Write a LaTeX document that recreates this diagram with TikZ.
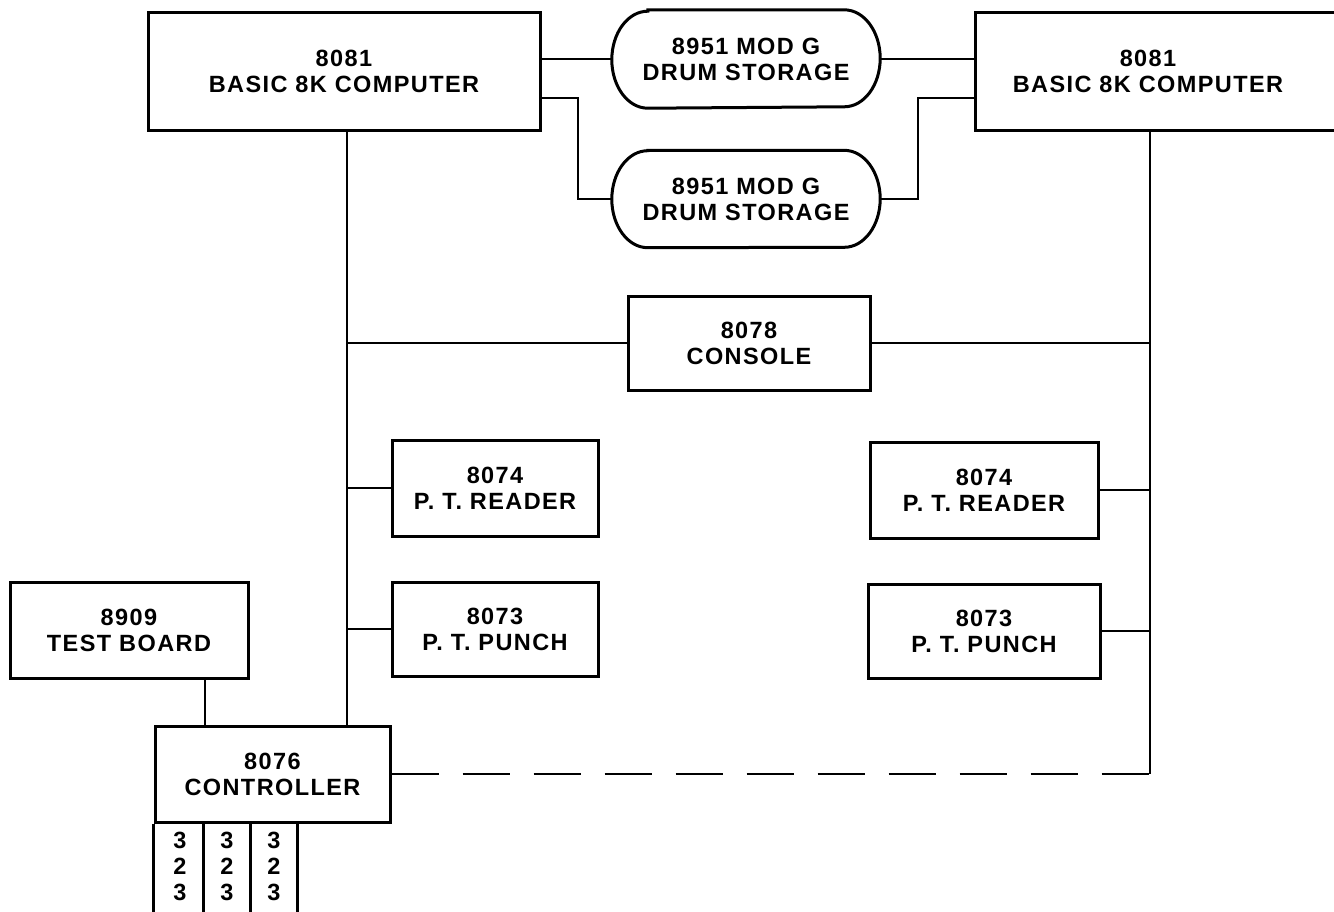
\documentclass[tikz,border=0pt]{standalone}
\usepackage{fontspec}
\setmainfont{Liberation Sans}
\usetikzlibrary{calc}
\newcommand\dglbl{\fontsize{23.5}{26}\selectfont\bfseries\addfontfeature{LetterSpace=6}}
\begin{document}
\begin{tikzpicture}[x=1pt,y=-1pt,
  box/.style={draw,line width=3pt,inner sep=0pt,align=center,font=\dglbl},
  drum/.style={inner sep=0pt,align=center,font=\dglbl},
  txt/.style={inner sep=0pt,align=center,font=\dglbl},
  wire/.style={line width=1.8pt},
  heavy/.style={line width=3pt},
  dashwire/.style={line width=1.8pt,dash pattern=on 47pt off 24pt}]
\clip (0,0) rectangle (1334,911);
\fill[white] (0,0) rectangle (1334,911);

% computers
\node[box,minimum width=392,minimum height=118] (lc) at (344,71) {8081\\BASIC 8K COMPUTER};
\node[box,minimum width=400,minimum height=118] (rc) at (1175,71) {};
\node[txt] (rct) at (1148,71) {8081\\BASIC 8K COMPUTER};

% drums
\node[drum,minimum width=268,minimum height=98] (d1) at (746,59) {8951 MOD G\\DRUM STORAGE};
\node[drum,minimum width=268,minimum height=97] (d2) at (746,199) {8951 MOD G\\DRUM STORAGE};
\foreach \d in {d1,d2}{
  \draw[heavy] ($(\d.north west)+(36,0)$) -- ($(\d.north east)+(-36,0)$)
    arc[start angle=-90,end angle=90,x radius=36,y radius=48.5]
    -- ($(\d.south west)+(36,0)$)
    arc[start angle=90,end angle=270,x radius=36,y radius=48.5] -- cycle;
}

% other boxes
\node[box,minimum width=242,minimum height=94] (con) at (749,343) {8078\\CONSOLE};
\node[box,minimum width=206,minimum height=96] (lr) at (495,488) {8074\\P. T. READER};
\node[box,minimum width=206,minimum height=94] (lp) at (495,629) {8073\\P. T. PUNCH};
\node[box,minimum width=228,minimum height=96] (rr) at (984,490) {8074\\P. T. READER};
\node[box,minimum width=232,minimum height=94] (rp) at (984,631) {8073\\P. T. PUNCH};
\node[box,minimum width=238,minimum height=96] (tb) at (129,630) {8909\\TEST BOARD};
\node[box,minimum width=235,minimum height=96] (ctl) at (272.5,774) {8076\\CONTROLLER};

% helper coordinates
\coordinate (lj) at (578,98);
\coordinate (rj) at (918,98);
\coordinate (lb) at (347,0);
\coordinate (rb) at (1150,774);
\coordinate (tbx) at (205,0);

% connectors top
\draw[wire] (lc.east |- d1.west) -- (d1.west);
\draw[wire] (d1.east) -- (d1.east -| rc.west);
\draw[wire] (lc.east |- lj) -- (lj) |- (d2.west);
\draw[wire] (rc.west |- rj) -- (rj) |- (d2.east);

% buses
\draw[wire] (lc.south -| lb) -- (ctl.north -| lb);
\draw[wire] (rc.south -| rb) -- (rb);
\draw[wire] (con.west) -- (con.west -| lb);
\draw[wire] (con.east) -- (con.east -| rb);
\draw[wire] (lr.west) -- (lr.west -| lb);
\draw[wire] (lp.west) -- (lp.west -| lb);
\draw[wire] (rr.east) -- (rr.east -| rb);
\draw[wire] (rp.east) -- (rp.east -| rb);
\draw[wire] (tb.south -| tbx) -- (ctl.north -| tbx);
\draw[dashwire] (ctl.east) -- (rb);

% columns below controller
\coordinate (c0) at (ctl.south west);
\coordinate (c1) at (203,822);
\coordinate (c2) at (250,822);
\coordinate (c3) at (297,822);
\foreach \c in {c0,c1,c2,c3}{ \draw[heavy] (\c) -- ++(0,100); }
\node[txt] (k1) at (180,866) {3\\2\\3};
\node[txt] (k2) at (227,866) {3\\2\\3};
\node[txt] (k3) at (274,866) {3\\2\\3};
\end{tikzpicture}
\end{document}
